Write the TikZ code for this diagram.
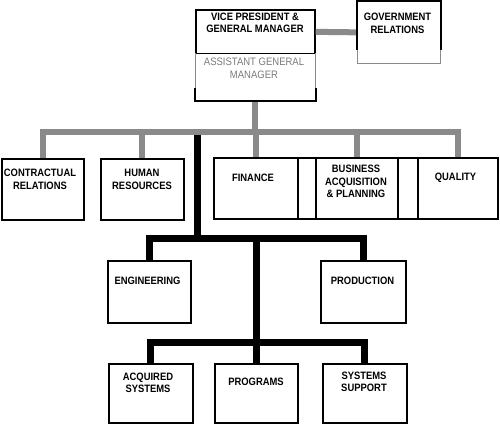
\documentclass[tikz,border=0pt]{standalone}
\usepackage{fontspec}
\setmainfont{Liberation Sans}[FakeStretch=0.88]
\definecolor{barg}{HTML}{8A8A8A}
\definecolor{txtg}{HTML}{7A7A7A}
\begin{document}
\begin{tikzpicture}[x=1pt,y=-1pt,
  box/.style={draw=black,line width=1.7pt,fill=white,anchor=north west,inner sep=0pt},
  lbl/.style={font=\fontsize{10.7}{12.5}\selectfont\bfseries,align=center,inner sep=0pt},
  glbl/.style={font=\fontsize{10.8}{13}\selectfont,text=txtg,align=center,inner sep=0pt},
  graybar/.style={draw=barg,line width=6pt},
  blackbar/.style={draw=black,line width=7pt}]
\useasboundingbox (0,0) rectangle (500,431);

% boxes
\node[box,minimum width=119pt,minimum height=44pt] (vptop) at (195,9) {};
\node[box,draw=none,minimum width=119pt,minimum height=46pt] (vpbot) at (195,53) {};
\node[box,draw=none,minimum width=82pt,minimum height=61pt] (gr) at (357,1) {};
\node[box,minimum width=82pt,minimum height=61pt] (contr) at (1,158) {};
\node[box,minimum width=83pt,minimum height=61pt] (hr) at (100,158) {};
\node[box,minimum width=84pt,minimum height=61pt] (fin) at (213,157) {};
\node[box,minimum width=18pt,minimum height=61pt] (gap1) at (297,157) {};
\node[box,minimum width=82pt,minimum height=61pt] (bus) at (315,157) {};
\node[box,minimum width=20pt,minimum height=61pt] (gap2) at (397,157) {};
\node[box,minimum width=80pt,minimum height=61pt] (qual) at (417,157) {};
\node[box,minimum width=83pt,minimum height=62pt] (eng) at (107,260) {};
\node[box,minimum width=85pt,minimum height=62pt] (prod) at (320,260) {};
\node[box,minimum width=84pt,minimum height=59pt] (acq) at (108,363) {};
\node[box,minimum width=83pt,minimum height=59pt] (prog) at (214,363) {};
\node[box,minimum width=84pt,minimum height=59pt] (sys) at (322,363) {};

% bar levels
\coordinate (gb) at (0,131.5);
\coordinate (bt) at (197.5,131.5);
\coordinate (bb1) at (0,238.5);
\coordinate (bb2) at (0,342.5);

% black trunk (under gray bar)
\draw[blackbar] (bt) -- (bt |- bb1);
\draw[blackbar] (eng.north) -- (eng.north |- bb1) -- (prod.north |- bb1) -- (prod.north);
\draw[blackbar] (prog.north |- bb1) -- (prog.north);
\draw[blackbar] (acq.north) -- (acq.north |- bb2) -- (sys.north |- bb2) -- (sys.north);

% gray connectors
\draw[graybar] (vptop.east) -- (gr.west);
\draw[graybar] (vpbot.south) -- (vpbot.south |- gb);
\draw[graybar] (contr.north) -- (contr.north |- gb) -- (qual.north |- gb) -- (qual.north);
\draw[graybar] (hr.north) -- (hr.north |- gb);
\draw[graybar] (fin.north) -- (fin.north |- gb);
\draw[graybar] (bus.north) -- (bus.north |- gb);

% VP lower part and Government Relations borders
\draw[barg,line width=1pt] (vpbot.north west) -- (vpbot.south west) (vpbot.north east) -- (vpbot.south east);
\draw[black,line width=1.7pt] (vpbot.west |- 0,88) -- (vpbot.south west) -- (vpbot.south east) -- (vpbot.east |- 0,88);
\draw[black,line width=1.7pt] (gr.west |- 0,50) -- (gr.north west) -- (gr.north east) -- (gr.east |- 0,50);
\draw[barg,line width=1pt] (gr.west |- 0,50) -- (gr.south west) -- (gr.south east) -- (gr.east |- 0,50);

% labels
\node[lbl] (tvp) at (255,23) {VICE PRESIDENT \&\\GENERAL MANAGER};
\node[glbl] (tagm) at (254,68.5) {ASSISTANT GENERAL\\MANAGER};
\node[lbl] (tgr) at (397.5,23.5) {GOVERNMENT\\RELATIONS};
\node[lbl] (tcontr) at (40,179.5) {CONTRACTUAL\\RELATIONS};
\node[lbl] (thr) at (142,179.5) {HUMAN\\RESOURCES};
\node[lbl] (tfin) at (253,178) {FINANCE};
\node[lbl] (tbus) at (356,181.5) {BUSINESS\\ACQUISITION\\\& PLANNING};
\node[lbl] (tqual) at (455.5,178) {QUALITY};
\node[lbl] (teng) at (147.5,281) {ENGINEERING};
\node[lbl] (tprod) at (362.5,281) {PRODUCTION};
\node[lbl] (tacq) at (148,383) {ACQUIRED\\SYSTEMS};
\node[lbl] (tprog) at (256,382) {PROGRAMS};
\node[lbl] (tsys) at (364,382) {SYSTEMS\\SUPPORT};
\end{tikzpicture}
\end{document}
